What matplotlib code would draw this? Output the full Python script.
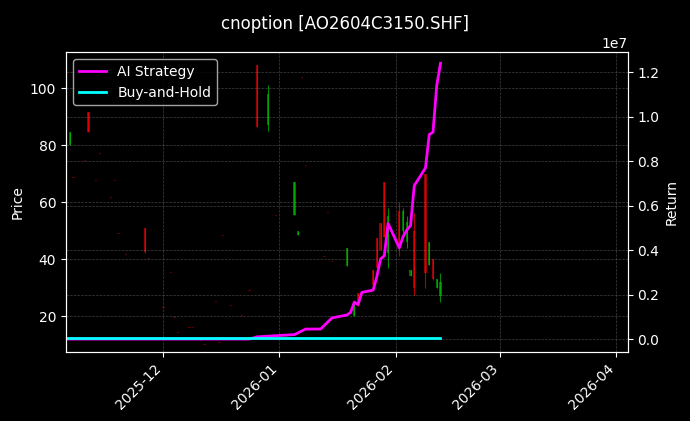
import matplotlib
matplotlib.use("Agg")
import matplotlib.pyplot as plt
import matplotlib.dates as mdates
import pandas as pd
import numpy as np

plt.style.use("dark_background")

dates = ["2025-11-06","2025-11-07","2025-11-10","2025-11-11","2025-11-13","2025-11-14","2025-11-17","2025-11-18",
         "2025-11-19","2025-11-21","2025-11-26","2025-11-27","2025-12-01","2025-12-03","2025-12-04","2025-12-05",
         "2025-12-08","2025-12-09","2025-12-11","2025-12-12","2025-12-15","2025-12-16","2025-12-17","2025-12-19",
         "2025-12-22","2025-12-24","2025-12-26","2025-12-29","2025-12-31","2026-01-05","2026-01-06","2026-01-07",
         "2026-01-08","2026-01-13","2026-01-14","2026-01-15","2026-01-19","2026-01-21","2026-01-22","2026-01-26",
         "2026-01-27","2026-01-28","2026-01-29","2026-01-30","2026-02-02","2026-02-03","2026-02-04","2026-02-05",
         "2026-02-06","2026-02-09","2026-02-10","2026-02-11","2026-02-12","2026-02-13"]
opens  = [80,68.4,74.4,91.6,67.4,76.8,61.4,67.4,48.8,41.4,50.9,40,22.8,35,19.3,14,15.8,15.8,11.2,9.8,24.9,10.5,48,23.5,
          20,28.8,108,87,55,55.4,48.4,103.5,72.6,40.7,56,39,37.5,20,28,36,47.4,52.6,67,42,57,50,46,34,50,70,38,40,30,27]
closes = [84.6,68.4,74.4,84.6,67.4,76.8,61.4,67.4,48.8,41.4,42.5,40,22.8,35,19.3,14,15.8,15.8,11.2,9.8,24.9,10.5,48,23.5,
          20,28.8,86.3,98,55,67,50,103.5,72.6,40.7,56,39,43.8,24.6,23.5,30.9,36.8,43.2,47.7,55,44,57,53,36,30,35,46,33,33,32]
highs  = [84.6,68.4,74.4,91.6,67.4,76.8,61.4,67.4,48.8,41.4,50.9,40,22.8,35,19.3,14,15.8,15.8,11.2,9.8,24.9,10.5,48,23.5,
          20,28.8,108,101,55,67,50,103.5,72.6,40.7,56,39,43.8,24.6,28,36,47.4,52.6,67,58,60,58,55,36,56,70,46,40,33,35]
lows   = [80,68.4,74.4,84.6,67.4,76.8,61.4,67.4,48.8,41.4,42,40,22.8,35,19.3,14,15.8,15.8,11.2,9.8,24.9,10.5,48,23.5,
          20,28.8,86.3,85,55,55.4,48.4,103.5,72.6,40.7,56,39,37.5,20,23.5,30.9,36.8,43.2,47.7,36.8,41,48,44,34,27.4,30,38,32.6,30,25]

strat_dates = ["2025-11-05","2025-12-24","2025-12-26","2026-01-05","2026-01-08","2026-01-12","2026-01-15","2026-01-19",
               "2026-01-20","2026-01-21","2026-01-22","2026-01-23","2026-01-26","2026-01-27","2026-01-28","2026-01-29",
               "2026-01-30","2026-02-02","2026-02-03","2026-02-04","2026-02-05","2026-02-06","2026-02-09","2026-02-10",
               "2026-02-11","2026-02-12","2026-02-13"]
strat_vals = [0,0,0.1e6,0.2e6,0.45e6,0.45e6,0.95e6,1.08e6,1.2e6,1.66e6,1.55e6,2.1e6,2.2e6,2.8e6,3.6e6,3.75e6,
              5.2e6,4.1e6,4.6e6,4.9e6,5.1e6,6.9e6,7.7e6,9.2e6,9.3e6,11.4e6,12.4e6]
bh_dates = ["2025-11-05","2026-01-05","2026-02-13"]
bh_vals = [0.05e6,0.05e6,0.05e6]

d = mdates.date2num(pd.to_datetime(dates))
o, c, h, l = map(np.array, (opens, closes, highs, lows))

fig = plt.figure(figsize=(6.9, 4.21), dpi=100)
ax = fig.add_axes([0.0957, 0.164, 0.814, 0.712])
for xi, oi, ci, hi, li in zip(d, o, c, h, l):
    col = "#00c000" if ci > oi else "red"
    ax.vlines(xi, li, hi, color=col, linewidth=0.8, alpha=0.7)
    ax.bar(xi, max(abs(ci - oi), 0.4), bottom=min(oi, ci), width=0.6, color=col, alpha=0.6 if ci != oi else 0.35)
ax.set_ylim(7.4, 112.6)
ax.set_xlim(mdates.date2num(pd.Timestamp("2025-11-05")), mdates.date2num(pd.Timestamp("2026-04-04")))
ax.set_ylabel("Price")
ax.grid(True, color="gray", linestyle="--", linewidth=0.5, alpha=0.5)
ax.xaxis.set_major_locator(mdates.MonthLocator())
ax.xaxis.set_major_formatter(mdates.DateFormatter("%Y-%m"))
plt.setp(ax.get_xticklabels(), rotation=45, ha="right")

ax2 = ax.twinx()
ax2.plot(pd.to_datetime(strat_dates), strat_vals, color="magenta", linewidth=2, label="AI Strategy")
ax2.plot(pd.to_datetime(bh_dates), bh_vals, color="cyan", linewidth=2, label="Buy-and-Hold")
ax2.set_ylim(-0.58e6, 12.9e6)
ax2.set_ylabel("Return")
ax2.grid(True, color="gray", linestyle="--", linewidth=0.5, alpha=0.5)
ax2.legend(loc="upper left")
fig.suptitle("cnoption [AO2604C3150.SHF]", y=0.965)
fig.savefig("out.png", dpi=100, facecolor="black")
